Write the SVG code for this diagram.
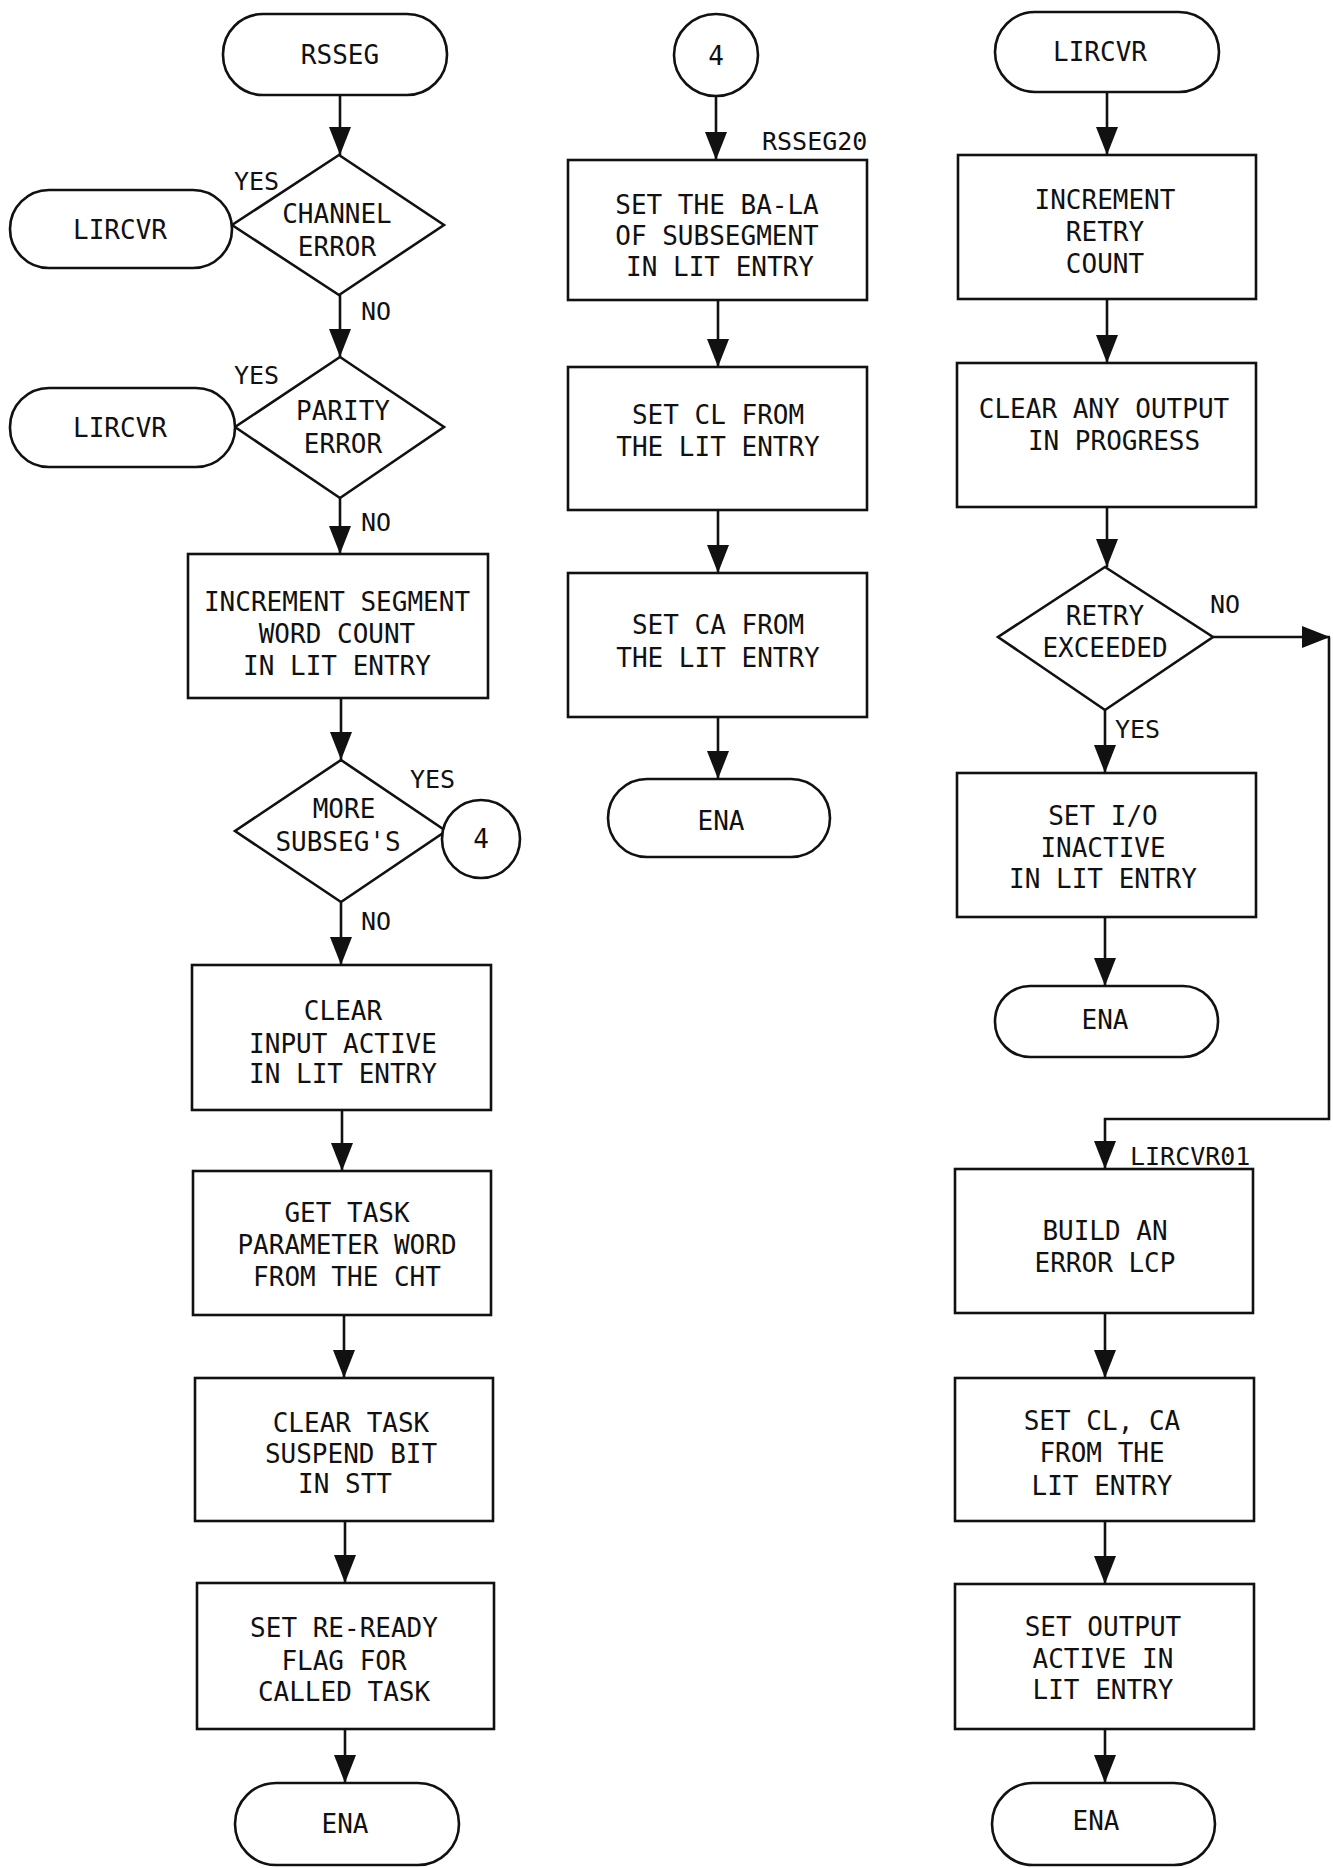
<svg xmlns="http://www.w3.org/2000/svg" width="1333" height="1868" viewBox="0 0 1333 1868">
<style>
.s{fill:#fff;stroke:#111;stroke-width:2.6}
.t{font-family:"DejaVu Sans Mono","Liberation Mono",monospace;font-size:26px;fill:#111;text-anchor:middle}
.l{font-family:"DejaVu Sans Mono","Liberation Mono",monospace;font-size:25px;fill:#111;text-anchor:start}
.c{fill:none;stroke:#111;stroke-width:2.6}
</style>
<defs>
<marker id="ah" viewBox="0 -11 28 22" refX="28" refY="0" markerWidth="28" markerHeight="22" markerUnits="userSpaceOnUse" orient="auto">
<path d="M0,-11 L28,0 L0,11 z" fill="#111"/>
</marker>
</defs>
<rect width="1333" height="1868" fill="#fff"/>

<g id="connectors">
<line class="c" x1="340" y1="95" x2="340" y2="155" marker-end="url(#ah)"/>
<line class="c" x1="340" y1="295" x2="340" y2="357" marker-end="url(#ah)"/>
<line class="c" x1="340" y1="498" x2="340" y2="554" marker-end="url(#ah)"/>
<line class="c" x1="341" y1="698" x2="341" y2="760" marker-end="url(#ah)"/>
<line class="c" x1="341" y1="902" x2="341" y2="965" marker-end="url(#ah)"/>
<line class="c" x1="342" y1="1110" x2="342" y2="1171" marker-end="url(#ah)"/>
<line class="c" x1="344" y1="1315" x2="344" y2="1378" marker-end="url(#ah)"/>
<line class="c" x1="345" y1="1521" x2="345" y2="1583" marker-end="url(#ah)"/>
<line class="c" x1="345" y1="1729" x2="345" y2="1783" marker-end="url(#ah)"/>

<line class="c" x1="716" y1="97" x2="716" y2="160" marker-end="url(#ah)"/>
<line class="c" x1="718" y1="300" x2="718" y2="367" marker-end="url(#ah)"/>
<line class="c" x1="718" y1="510" x2="718" y2="573" marker-end="url(#ah)"/>
<line class="c" x1="718" y1="717" x2="718" y2="779" marker-end="url(#ah)"/>

<line class="c" x1="1107" y1="92" x2="1107" y2="155" marker-end="url(#ah)"/>
<line class="c" x1="1107" y1="299" x2="1107" y2="363" marker-end="url(#ah)"/>
<line class="c" x1="1107" y1="507" x2="1107" y2="567" marker-end="url(#ah)"/>
<line class="c" x1="1105" y1="710" x2="1105" y2="773" marker-end="url(#ah)"/>
<line class="c" x1="1105" y1="917" x2="1105" y2="986" marker-end="url(#ah)"/>
<line class="c" x1="1213" y1="637" x2="1330" y2="637" marker-end="url(#ah)"/>
<polyline class="c" points="1329,637 1329,1119 1105,1119 1105,1169" marker-end="url(#ah)"/>
<line class="c" x1="1105" y1="1313" x2="1105" y2="1378" marker-end="url(#ah)"/>
<line class="c" x1="1105" y1="1521" x2="1105" y2="1584" marker-end="url(#ah)"/>
<line class="c" x1="1105" y1="1729" x2="1105" y2="1783" marker-end="url(#ah)"/>
</g>

<g id="rsseg"><rect class="s" x="223" y="14" width="224" height="81" rx="40"/><text class="t" x="340" y="64">RSSEG</text></g>
<g id="channel-error"><polygon class="s" points="339,155 444,225 339,295 232,225"/><text class="t" x="337" y="223">CHANNEL</text><text class="t" x="337" y="256">ERROR</text></g>
<g id="lircvr-1"><rect class="s" x="10" y="190" width="222" height="78" rx="39"/><text class="t" x="120" y="239">LIRCVR</text></g>
<g id="parity-error"><polygon class="s" points="340,357 444,427 340,498 235,427"/><text class="t" x="343" y="420">PARITY</text><text class="t" x="343" y="453">ERROR</text></g>
<g id="lircvr-2"><rect class="s" x="10" y="388" width="225" height="79" rx="39"/><text class="t" x="120" y="437">LIRCVR</text></g>
<g id="inc-segment"><rect class="s" x="188" y="554" width="300" height="144"/><text class="t" x="337" y="611">INCREMENT SEGMENT</text><text class="t" x="337" y="643">WORD COUNT</text><text class="t" x="337" y="675">IN LIT ENTRY</text></g>
<g id="more-subsegs"><polygon class="s" points="341,760 446,831 341,902 235,831"/><text class="t" x="344" y="818">MORE</text><text class="t" x="338" y="851">SUBSEG'S</text></g>
<g id="conn-4a"><circle class="s" cx="481" cy="839" r="39"/><text class="t" x="481" y="848">4</text></g>
<g id="clear-input"><rect class="s" x="192" y="965" width="299" height="145"/><text class="t" x="343" y="1020">CLEAR</text><text class="t" x="343" y="1053">INPUT ACTIVE</text><text class="t" x="343" y="1083">IN LIT ENTRY</text></g>
<g id="get-task"><rect class="s" x="193" y="1171" width="298" height="144"/><text class="t" x="347" y="1222">GET TASK</text><text class="t" x="347" y="1254">PARAMETER WORD</text><text class="t" x="347" y="1286">FROM THE CHT</text></g>
<g id="clear-task"><rect class="s" x="195" y="1378" width="298" height="143"/><text class="t" x="351" y="1432">CLEAR TASK</text><text class="t" x="351" y="1463">SUSPEND BIT</text><text class="t" x="345" y="1493">IN STT</text></g>
<g id="set-reready"><rect class="s" x="197" y="1583" width="297" height="146"/><text class="t" x="344" y="1637">SET RE-READY</text><text class="t" x="344" y="1670">FLAG FOR</text><text class="t" x="344" y="1701">CALLED TASK</text></g>
<g id="ena-1"><rect class="s" x="235" y="1783" width="224" height="82" rx="41"/><text class="t" x="345" y="1833">ENA</text></g>

<g id="conn-4b"><ellipse class="s" cx="716" cy="55" rx="42" ry="41"/><text class="t" x="716" y="65">4</text></g>
<text class="l" x="762" y="150">RSSEG20</text>
<g id="set-bala"><rect class="s" x="568" y="160" width="299" height="140"/><text class="t" x="717" y="214">SET THE BA-LA</text><text class="t" x="717" y="245">OF SUBSEGMENT</text><text class="t" x="720" y="276">IN LIT ENTRY</text></g>
<g id="set-cl"><rect class="s" x="568" y="367" width="299" height="143"/><text class="t" x="718" y="424">SET CL FROM</text><text class="t" x="718" y="456">THE LIT ENTRY</text></g>
<g id="set-ca"><rect class="s" x="568" y="573" width="299" height="144"/><text class="t" x="718" y="634">SET CA FROM</text><text class="t" x="718" y="667">THE LIT ENTRY</text></g>
<g id="ena-2"><rect class="s" x="608" y="779" width="222" height="78" rx="39"/><text class="t" x="721" y="830">ENA</text></g>

<g id="lircvr-3"><rect class="s" x="995" y="12" width="224" height="80" rx="40"/><text class="t" x="1100" y="61">LIRCVR</text></g>
<g id="inc-retry"><rect class="s" x="958" y="155" width="298" height="144"/><text class="t" x="1105" y="209">INCREMENT</text><text class="t" x="1105" y="241">RETRY</text><text class="t" x="1105" y="273">COUNT</text></g>
<g id="clear-output"><rect class="s" x="957" y="363" width="299" height="144"/><text class="t" x="1104" y="418">CLEAR ANY OUTPUT</text><text class="t" x="1114" y="450">IN PROGRESS</text></g>
<g id="retry-exceeded"><polygon class="s" points="1105,567 1213,637 1105,710 998,637"/><text class="t" x="1105" y="625">RETRY</text><text class="t" x="1105" y="657">EXCEEDED</text></g>
<g id="set-io"><rect class="s" x="957" y="773" width="299" height="144"/><text class="t" x="1103" y="825">SET I/O</text><text class="t" x="1103" y="857">INACTIVE</text><text class="t" x="1103" y="888">IN LIT ENTRY</text></g>
<g id="ena-3"><rect class="s" x="995" y="986" width="223" height="71" rx="35"/><text class="t" x="1105" y="1029">ENA</text></g>
<text class="l" x="1130" y="1165">LIRCVR01</text>
<g id="build-lcp"><rect class="s" x="955" y="1169" width="298" height="144"/><text class="t" x="1105" y="1240">BUILD AN</text><text class="t" x="1105" y="1272">ERROR LCP</text></g>
<g id="set-clca"><rect class="s" x="955" y="1378" width="299" height="143"/><text class="t" x="1102" y="1430">SET CL, CA</text><text class="t" x="1102" y="1462">FROM THE</text><text class="t" x="1102" y="1495">LIT ENTRY</text></g>
<g id="set-output"><rect class="s" x="955" y="1584" width="299" height="145"/><text class="t" x="1103" y="1636">SET OUTPUT</text><text class="t" x="1103" y="1668">ACTIVE IN</text><text class="t" x="1103" y="1699">LIT ENTRY</text></g>
<g id="ena-4"><rect class="s" x="992" y="1783" width="223" height="82" rx="41"/><text class="t" x="1096" y="1830">ENA</text></g>

<g id="labels">
<text class="l" x="234" y="190">YES</text>
<text class="l" x="361" y="320">NO</text>
<text class="l" x="234" y="384">YES</text>
<text class="l" x="361" y="531">NO</text>
<text class="l" x="410" y="788">YES</text>
<text class="l" x="361" y="930">NO</text>
<text class="l" x="1210" y="613">NO</text>
<text class="l" x="1115" y="738">YES</text>
</g>
</svg>
